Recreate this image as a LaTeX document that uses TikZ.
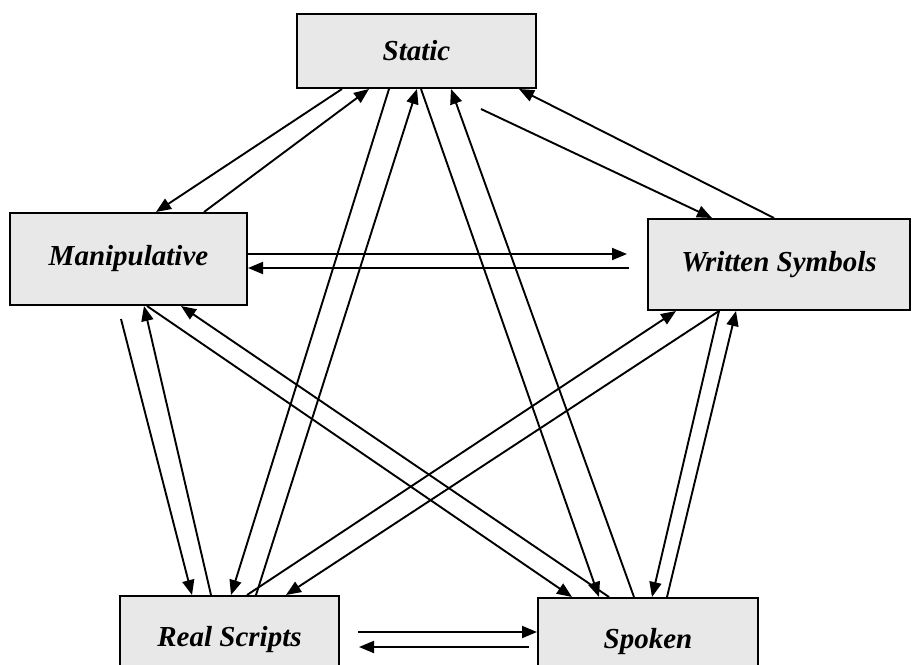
\documentclass[tikz,border=0pt]{standalone}
\usepackage{fontspec}
\setmainfont{Liberation Serif}
\usetikzlibrary{shapes, arrows.meta}

\begin{document}
\begin{tikzpicture}[x=1pt, y=-1pt,
    box/.style = {shape=rectangle, draw, line width=2pt,
        fill=black!9, inner sep=0pt,
        font=\fontsize{29}{35}\selectfont\bfseries\itshape},
    link/.style = {line width=1.9pt,
        -{Triangle[length=15pt, width=12pt]}}]
    \useasboundingbox (0,0) rectangle (912,664);
    \clip (0,0) rectangle (912,664);
    % the five boxes
    \node[box, minimum width=239pt, minimum height=74pt] (static) at (416.5,51) {Static};
    \node[box, minimum width=237pt, minimum height=92pt] (manip) at (128.5,259) {Manipulative};
    \node[box, minimum width=262pt, minimum height=91pt] (written) at (779,264.5) {Written Symbols};
    \node[box, minimum width=219pt, minimum height=88pt] (real) at (229.5,640) {Real Scripts};
    \node[box, minimum width=220pt, minimum height=88pt] (spoken) at (648,642) {Spoken};
    % static
    \draw[link] ([xshift=46pt]static.south west) -- ([xshift=147pt]manip.north west);
    \draw[link] ([xshift=195pt]manip.north west) -- ([xshift=73pt]static.south west);
    \draw[link] ([xshift=185pt,yshift=-20pt]static.south west) -- ([xshift=65pt]written.north west);
    \draw[link] ([xshift=127pt]written.north west) -- ([xshift=223pt]static.south west);
    \draw[link] ([xshift=93pt]static.south west) -- ([xshift=112pt]real.north west);
    \draw[link] ([xshift=137pt]real.north west) -- ([xshift=121pt]static.south west);
    \draw[link] ([xshift=125pt]static.south west) -- ([xshift=62pt]spoken.north west);
    \draw[link] ([xshift=97pt]spoken.north west) -- ([xshift=155pt]static.south west);
    % manipulative
    \draw[link] ([yshift=5pt]manip.east) -- ([xshift=-20pt,yshift=10.5pt]written.west);
    \draw[link] ([xshift=-18pt,yshift=-3.5pt]written.west) -- ([yshift=-9pt]manip.east);
    \draw[link] ([xshift=112pt,yshift=-13pt]manip.south west) -- ([xshift=73pt]real.north west);
    \draw[link] ([xshift=92pt]real.north west) -- ([xshift=135pt]manip.south west);
    \draw[link] ([xshift=138pt]manip.south west) -- ([xshift=35pt]spoken.north west);
    \draw[link] ([xshift=72pt]spoken.north west) -- ([xshift=172pt]manip.south west);
    % written symbols
    \draw[link] ([xshift=72pt]written.south west) -- ([xshift=167pt]real.north west);
    \draw[link] ([xshift=128pt]real.north west) -- ([xshift=29pt]written.south west);
    \draw[link] ([xshift=72pt]written.south west) -- ([xshift=115pt]spoken.north west);
    \draw[link] ([xshift=130pt]spoken.north west) -- ([xshift=89pt]written.south west);
    % real scripts and spoken
    \draw[link] ([xshift=18pt,yshift=8pt]real.east) -- ([yshift=10pt]spoken.west);
    \draw[link] ([xshift=-8pt,yshift=-5pt]spoken.west) -- ([xshift=19pt,yshift=-7pt]real.east);
\end{tikzpicture}
\end{document}
